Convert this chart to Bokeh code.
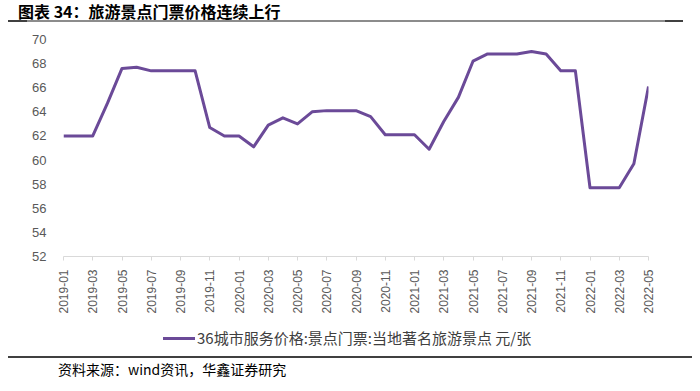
import math
from bokeh.plotting import figure
from bokeh.layouts import column
from bokeh.models import Range1d, FixedTicker, Div
from bokeh.embed import file_html
from bokeh.resources import INLINE

title_text = "图表 34：旅游景点门票价格连续上行"
series_name = "36城市服务价格:景点门票:当地著名旅游景点 元/张"
source_text = "资料来源：wind资讯，华鑫证券研究"

months = [
    "2019-01", "2019-02", "2019-03", "2019-04", "2019-05", "2019-06",
    "2019-07", "2019-08", "2019-09", "2019-10", "2019-11", "2019-12",
    "2020-01", "2020-02", "2020-03", "2020-04", "2020-05", "2020-06",
    "2020-07", "2020-08", "2020-09", "2020-10", "2020-11", "2020-12",
    "2021-01", "2021-02", "2021-03", "2021-04", "2021-05", "2021-06",
    "2021-07", "2021-08", "2021-09", "2021-10", "2021-11", "2021-12",
    "2022-01", "2022-02", "2022-03", "2022-04", "2022-05",
]
prices = [
    62.0, 62.0, 62.0, 64.7, 67.6, 67.7,
    67.4, 67.4, 67.4, 67.4, 62.7, 62.0,
    62.0, 61.1, 62.9, 63.5, 63.0, 64.0,
    64.1, 64.1, 64.1, 63.6, 62.1, 62.1,
    62.1, 60.9, 63.2, 65.2, 68.2, 68.8,
    68.8, 68.8, 69.0, 68.8, 67.4, 67.4,
    57.7, 57.7, 57.7, 59.7, 66.1,
]
y_ticks = [52, 54, 56, 58, 60, 62, 64, 66, 68, 70]

xs = list(range(len(months)))
line_color = "#6B4A98"
FONT = "Noto Sans CJK SC"

# ---- header (title + rule)
header = Div(width=700, height=22, margin=0, text=(
    '<div style="position:relative;width:700px;height:22px;">'
    f'<span style="position:absolute;left:18px;top:1px;font-family:\'{FONT}\';font-weight:bold;'
    f'font-size:16px;line-height:20px;color:#000;white-space:nowrap;">{title_text}</span>'
    '<div style="position:absolute;left:8px;top:20px;width:675px;height:2px;'
    'background:linear-gradient(to right,#404040 0px,#404040 19px,#8C8C8C 19px,#8C8C8C 657px,#404040 657px);"></div>'
    '</div>'))

# ---- chart
p = figure(width=700, height=303, output_backend="svg", toolbar_location=None,
           x_range=Range1d(0, len(months) - 1), y_range=Range1d(y_ticks[0], y_ticks[-1]),
           min_border_left=63, min_border_right=52, min_border_top=17, min_border_bottom=69,
           margin=0)
p.outline_line_color = None
p.grid.visible = False
p.background_fill_color = "white"
p.border_fill_color = "white"

r = p.line(xs, prices, line_width=3, line_color=line_color, line_join="round")

xa = p.xaxis[0]
xa.ticker = FixedTicker(ticks=xs[::2])
xa.major_label_overrides = {i: months[i] for i in xs[::2]}
xa.major_label_orientation = math.pi / 2
xa.axis_line_color = "#D9D9D9"
xa.major_tick_line_color = "#D9D9D9"
xa.major_tick_out = 4
xa.major_tick_in = 0
xa.minor_tick_line_color = None
xa.major_label_text_font = "Liberation Sans"
xa.major_label_text_font_size = "12px"
xa.major_label_text_color = "#595959"
xa.major_label_standoff = 9

ya = p.yaxis[0]
ya.ticker = FixedTicker(ticks=y_ticks)
ya.axis_line_color = None
ya.major_tick_line_color = None
ya.minor_tick_line_color = None
ya.major_label_text_font = "Liberation Sans"
ya.major_label_text_font_size = "13px"
ya.major_label_text_color = "#595959"
ya.major_label_standoff = 11

# ---- legend row
legend_div = Div(width=700, height=31, margin=0, text=(
    '<div style="position:relative;width:700px;height:31px;">'
    f'<div style="position:absolute;left:163px;top:11.5px;width:32px;height:3px;background:{line_color};"></div>'
    f'<span style="position:absolute;left:197px;top:3px;font-family:\'{FONT}\';'
    f'font-size:15px;line-height:20px;color:#404040;white-space:nowrap;">{series_name}</span>'
    '</div>'))

# ---- footer (rule + source)
footer = Div(width=700, height=35, margin=0, text=(
    '<div style="position:relative;width:700px;height:35px;">'
    '<div style="position:absolute;left:8px;top:0px;width:684px;height:2px;background:#404040;"></div>'
    f'<span style="position:absolute;left:58px;top:5px;font-family:\'{FONT}\';'
    f'font-size:14px;line-height:16px;color:#000;white-space:nowrap;">{source_text}</span>'
    '</div>'))

layout = column(header, p, legend_div, footer, spacing=0, margin=0)
open("out.html", "w").write(file_html(layout, INLINE))
